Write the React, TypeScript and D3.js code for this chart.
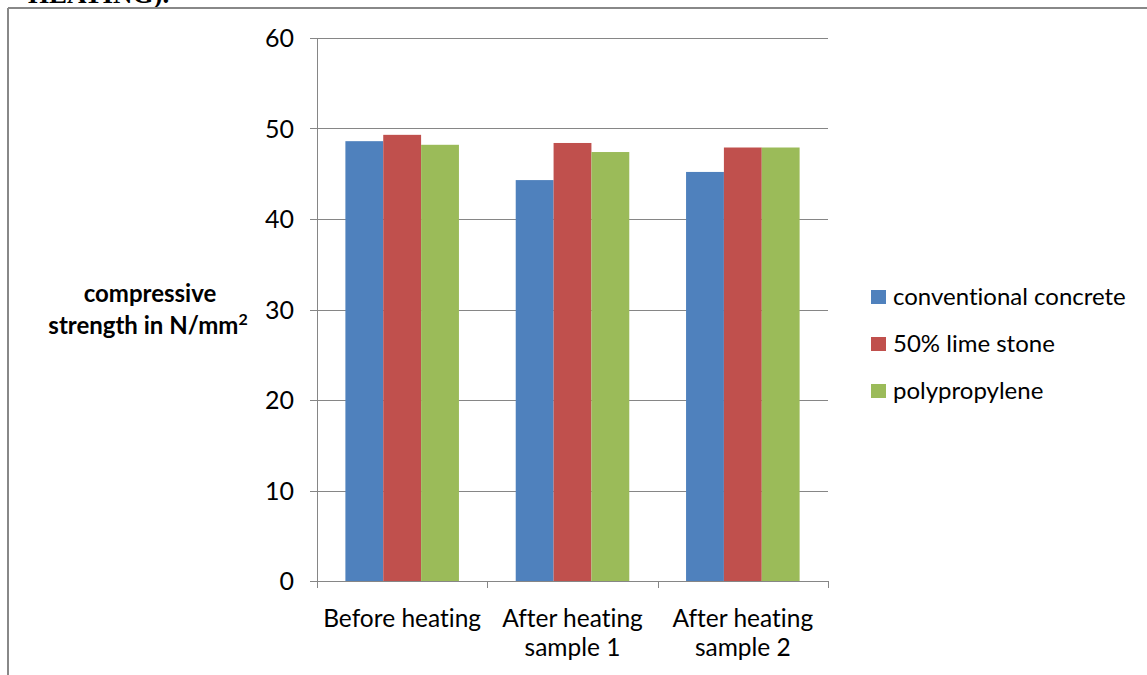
import React from 'react';
import * as d3 from 'd3';

// values
const categories = ['Before heating', 'After heating sample 1', 'After heating sample 2'];
const categoryLines = [['Before heating'], ['After heating', 'sample 1'], ['After heating', 'sample 2']];
const seriesNames = ['conventional concrete', '50% lime stone', 'polypropylene'];
const conventional = [48.6, 44.3, 45.2];
const limeStone = [49.3, 48.4, 47.9];
const polypropylene = [48.2, 47.4, 47.9];
const yTicks = [0, 10, 20, 30, 40, 50, 60];

const colors = ['#4F81BD', '#C0504D', '#9BBB59'];
const seriesValues = [conventional, limeStone, polypropylene];

const W = 1147;
const H = 675;
const font = 'Lato, "Open Sans", sans-serif';
const noLiga: React.CSSProperties = { fontVariantLigatures: 'none', fontFeatureSettings: '"liga" 0' };

const App: React.FC = () => {
  const x0 = d3.scaleBand<string>().domain(categories).range([317, 828]).padding(0);
  const bw = x0.bandwidth();
  const gap = (bw * 1.5) / 4.5;
  const x1 = d3.scaleBand<string>().domain(seriesNames).range([gap / 2, bw - gap / 2]).padding(0);
  const y = d3.scaleLinear().domain([0, 60]).range([581, 38]);

  const axisColor = '#868686';

  return (
    <svg
      width={W}
      height={H}
      style={{ position: 'absolute', left: 0, top: 0, background: '#fff', ...noLiga }}
    >
      {/* cut-off caption from the page above */}
      <text x={28} y={3} fontFamily='"Liberation Serif", serif' fontWeight="bold" fontSize={27} fill="#000">
        HEATING).
      </text>

      {/* chart frame */}
      <line x1={8} x2={W} y1={8} y2={8} stroke="#888" strokeWidth={2} />
      <line x1={8} x2={8} y1={8} y2={H} stroke="#888" strokeWidth={2} />

      {/* gridlines and y ticks */}
      {yTicks.map(t => (
        <g key={t}>
          <line x1={310} x2={828} y1={Math.round(y(t)) + 0.5} y2={Math.round(y(t)) + 0.5} stroke={axisColor} strokeWidth={1} />
          <text x={294} y={y(t)} dy="0.36em" textAnchor="end" fontFamily={font} fontSize={25} fill="#000">
            {t}
          </text>
        </g>
      ))}

      {/* bars */}
      {seriesNames.map((s, si) =>
        categories.map((c, ci) => (
          <rect
            key={s + c}
            x={(x0(c) ?? 0) + (x1(s) ?? 0)}
            y={y(seriesValues[si][ci])}
            width={x1.bandwidth()}
            height={y(0) - y(seriesValues[si][ci])}
            fill={colors[si]}
          />
        ))
      )}

      {/* axes */}
      <line x1={317.5} x2={317.5} y1={38} y2={581} stroke={axisColor} strokeWidth={1} />
      <line x1={310} x2={828} y1={581.5} y2={581.5} stroke={axisColor} strokeWidth={1} />
      {[...categories.map(c => x0(c) ?? 0), 828].map((xv, i) => (
        <line key={i} x1={Math.round(xv) + 0.5} x2={Math.round(xv) + 0.5} y1={581} y2={588} stroke={axisColor} strokeWidth={1} />
      ))}

      {/* category labels */}
      {categories.map((c, ci) => (
        <text
          key={c}
          x={(x0(c) ?? 0) + bw / 2}
          y={627}
          textAnchor="middle"
          fontFamily={font}
          fontSize={24.5}
          fill="#000"
        >
          {categoryLines[ci].map((line, li) => (
            <tspan key={li} x={(x0(c) ?? 0) + bw / 2} dy={li === 0 ? 0 : 29}>
              {line}
            </tspan>
          ))}
        </text>
      ))}

      {/* y axis title */}
      <text textAnchor="middle" fontFamily={font} fontWeight="bold" fontSize={24} fill="#000">
        <tspan x={150} y={302}>compressive</tspan>
        <tspan x={148} y={334}>
          strength in N/mm<tspan fontSize={16} dy={-9}>2</tspan>
        </tspan>
      </text>

      {/* legend */}
      {seriesNames.map((s, si) => (
        <g key={s} transform={`translate(871, ${297 + si * 47})`}>
          <rect x={0} y={-7} width={15} height={14} fill={colors[si]} />
          <text x={22} y={0} dy="0.35em" fontFamily={font} fontSize={24} fill="#000">
            {s}
          </text>
        </g>
      ))}
    </svg>
  );
};

export default App;
